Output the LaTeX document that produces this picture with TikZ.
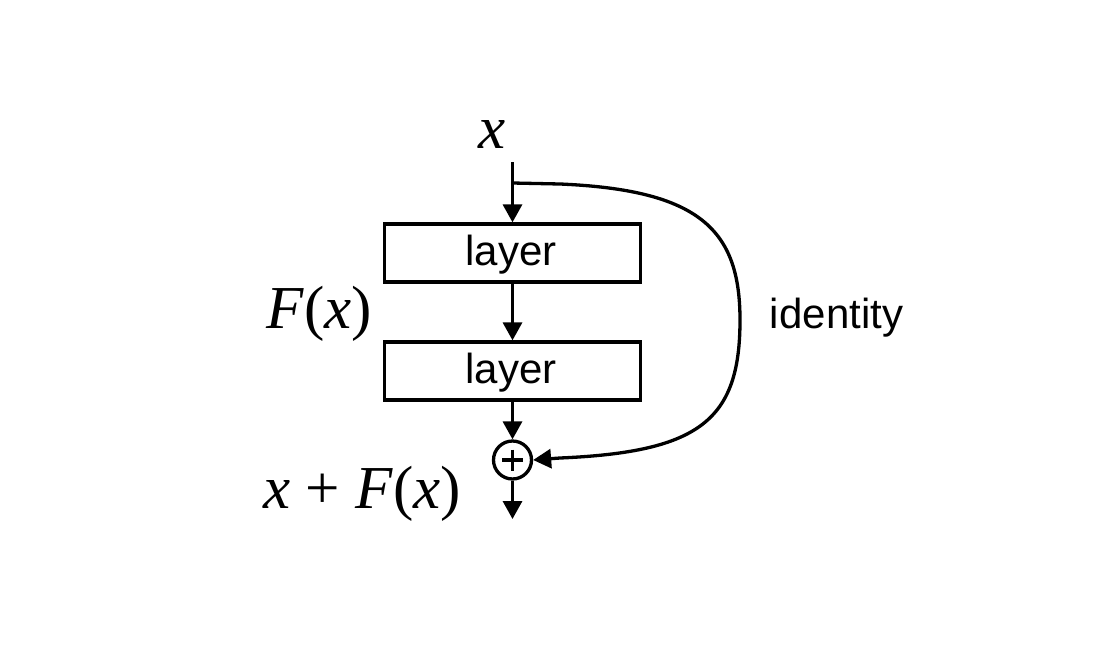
\documentclass[tikz,border=0pt]{standalone}
\usepackage{fontspec}
\setmainfont{Liberation Serif}
\newfontfamily\arialfont{Liberation Sans}
\usetikzlibrary{arrows.meta}
\begin{document}
\begin{tikzpicture}[x=1pt,y=-1pt,
  line width=3.3pt,
  arr/.style={-{Triangle[length=18pt,width=19pt]}},
  layerbox/.style={draw,line width=3.3pt,minimum width=256pt,minimum height=58pt,inner sep=0pt},
  sans/.style={font=\arialfont\fontsize{42}{48}\selectfont},
  serif/.style={font=\fontsize{61}{70}\selectfont,inner sep=0pt,anchor=base}]
\useasboundingbox (0,0) rectangle (1116,659);
\node[serif] (xin) at (492,148) {\itshape x};
\coordinate (start) at (512.5,162);
\coordinate (split) at (512.5,183);
\node[layerbox] (l1) at (512.5,253) {};
\node[sans,anchor=base,inner sep=0pt] (t1) at (511,265) {layer};
\node[layerbox] (l2) at (512.5,371) {};
\node[sans,anchor=base,inner sep=0pt] (t2) at (511,383) {layer};
\node[draw,circle,line width=3.3pt,minimum size=38pt,inner sep=0pt] (add) at (512.5,460) {};
\draw (add.center) ++(-10.5,0) -- ++(21,0);
\draw (add.center) ++(0,-10.5) -- ++(0,21);
\coordinate (out) at (512.5,519);
\node[serif] (fx) at (319,328) {\itshape F\/\upshape(\itshape x\/\upshape)};
\node[serif] (sum) at (362,508) {\itshape x\/\upshape{} + \itshape F\/\upshape(\itshape x\/\upshape)};
\node[sans,anchor=base,inner sep=0pt] (id) at (836.5,328) {identity};
\draw[arr] (start) -- (l1.north);
\draw[arr] (l1.south) -- (l2.north);
\draw[arr] (l2.south) -- (add.north);
\draw[arr] (add.south) -- (out);
\draw[arr] (split) -- (560,184) .. controls (700,190) and (740,230) .. (740,320)
  .. controls (740,420) and (700,452) .. (560,458) -- (add.east);
\end{tikzpicture}
\end{document}
